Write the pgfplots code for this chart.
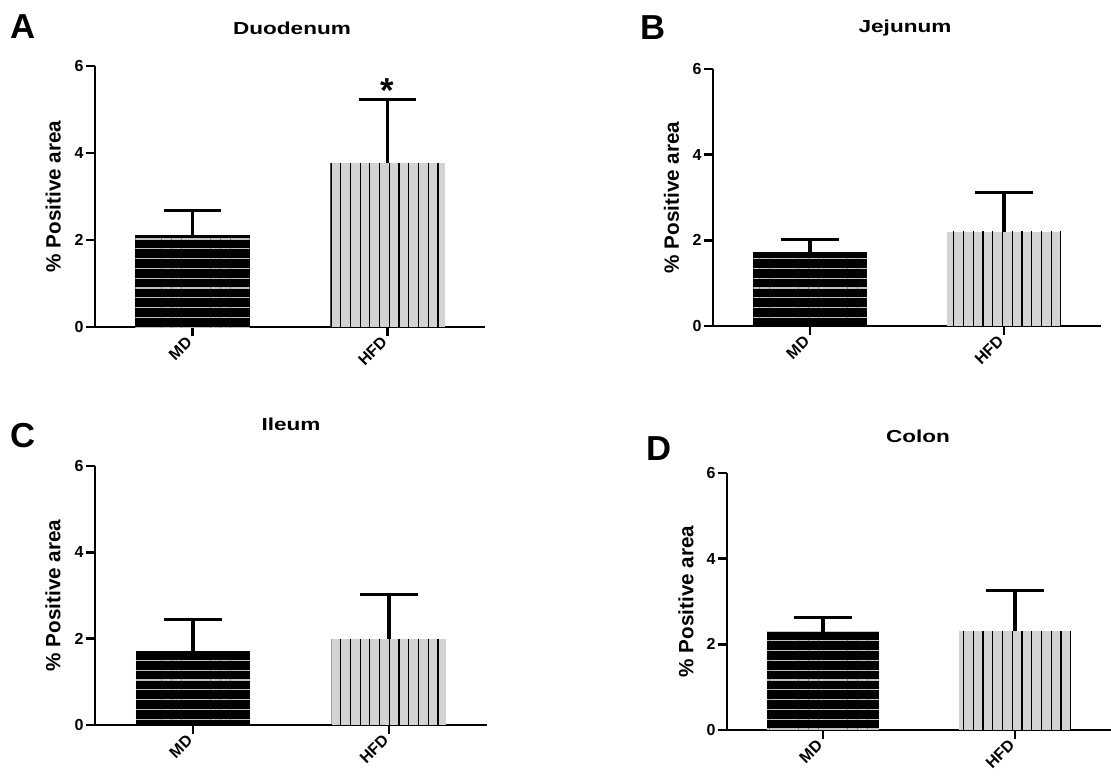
\documentclass[border=0pt]{standalone}
\usepackage{pgfplots}
\pgfplotsset{compat=1.18}
\usepackage{graphicx}
\usepackage{fontspec}
\setmainfont{Liberation Sans}
\usetikzlibrary{patterns.meta}

\definecolor{lgray}{RGB}{211,211,211}
\definecolor{stripe}{RGB}{195,195,195}

\pgfplotsset{
 panel/.style={
  scale only axis,
  anchor=south west,
  xmin=-0.5, xmax=1.5, ymin=0, ymax=6,
  axis x line*=bottom, axis y line*=left,
  axis line style={line width=1.9pt},
  ytick={0,2,4,6}, xtick={0,1}, xticklabels={MD,HFD},
  minor tick num=0,
  tick align=outside,
  major tick length=7pt,
  tick style={line width=1.9pt, black},
  /pgf/number format/assume math mode=true,
  ticklabel style={font=\bfseries\fontsize{12}{14}\selectfont},
  yticklabel style={inner sep=1.5pt},
  xticklabel style={rotate=45, anchor=east},
  ylabel={\% Positive area},
  ylabel style={font=\bfseries\fontsize{15.5}{18}\selectfont, at={(axis description cs:-0.107,0.5)}, anchor=center},
  clip=false,
 },
 md/.style={ybar, bar width=0.585, bar shift=0pt, fill=black, draw=none,
   postaction={pattern={Lines[angle=0,distance=7.35pt,line width=0.8pt]}, pattern color=stripe},
   error bars/.cd, y dir=plus, y explicit,
   error bar style={draw=black, line width=2.3pt},
   error mark options={rotate=90, draw=black, line width=2.3pt, mark size=21.4pt}},
 hfd/.style={ybar, bar width=0.585, bar shift=0pt, fill=lgray, draw=none,
   postaction={pattern={Lines[angle=90,distance=7.3pt,line width=0.9pt]}, pattern color=black},
   error bars/.cd, y dir=plus, y explicit,
   error bar style={draw=black, line width=2.3pt},
   error mark options={rotate=90, draw=black, line width=2.3pt, mark size=21.4pt}},
}

\newcommand{\ttl}[1]{\bfseries\fontsize{13}{15}\selectfont\scalebox{1.3}[1]{#1}}
\newcommand{\plab}[1]{\bfseries\fontsize{26}{30}\selectfont #1}

\begin{document}
\begin{tikzpicture}
\useasboundingbox (0pt,0pt) rectangle (833.25pt,-583.5pt);

% Panel A
\begin{axis}[panel, at={(71.25pt,-245.25pt)}, width=292.5pt, height=195.75pt]
\addplot[md] coordinates {(0,2.11) +- (0,0.56)};
\addplot[hfd] coordinates {(1,3.77) +- (0,1.45)};
\node[anchor=north, inner sep=0pt, font=\bfseries\fontsize{26}{30}\selectfont] at (axis cs:1,5.72) {*};
\end{axis}

% Panel B
\begin{axis}[panel, at={(534.75pt,-244.5pt)}, width=291pt, height=192.75pt]
\addplot[md] coordinates {(0,1.73) +- (0,0.28)};
\addplot[hfd] coordinates {(1,2.20) +- (0,0.91)};
\end{axis}

% Panel C
\begin{axis}[panel, at={(71.25pt,-543.75pt)}, width=294pt, height=194.25pt]
\addplot[md] coordinates {(0,1.71) +- (0,0.74)};
\addplot[hfd] coordinates {(1,1.99) +- (0,1.04)};
\end{axis}

% Panel D
\begin{axis}[panel, at={(545.25pt,-547.5pt)}, width=288pt, height=192.75pt]
\addplot[md] coordinates {(0,2.29) +- (0,0.33)};
\addplot[hfd] coordinates {(1,2.31) +- (0,0.94)};
\end{axis}

% Titles
\node[anchor=base] at (219pt,-26.25pt) {\ttl{Duodenum}};
\node[anchor=base] at (678.75pt,-24pt) {\ttl{Jejunum}};
\node[anchor=base] at (218.25pt,-322.5pt) {\ttl{Ileum}};
\node[anchor=base] at (688.5pt,-331.5pt) {\ttl{Colon}};

% Panel letters
\node[anchor=base] at (17.6pt,-28.5pt) {\plab{A}};
\node[anchor=base] at (489.4pt,-30pt) {\plab{B}};
\node[anchor=base] at (17.6pt,-335.25pt) {\plab{C}};
\node[anchor=base] at (494.25pt,-345pt) {\plab{D}};
\end{tikzpicture}
\end{document}
